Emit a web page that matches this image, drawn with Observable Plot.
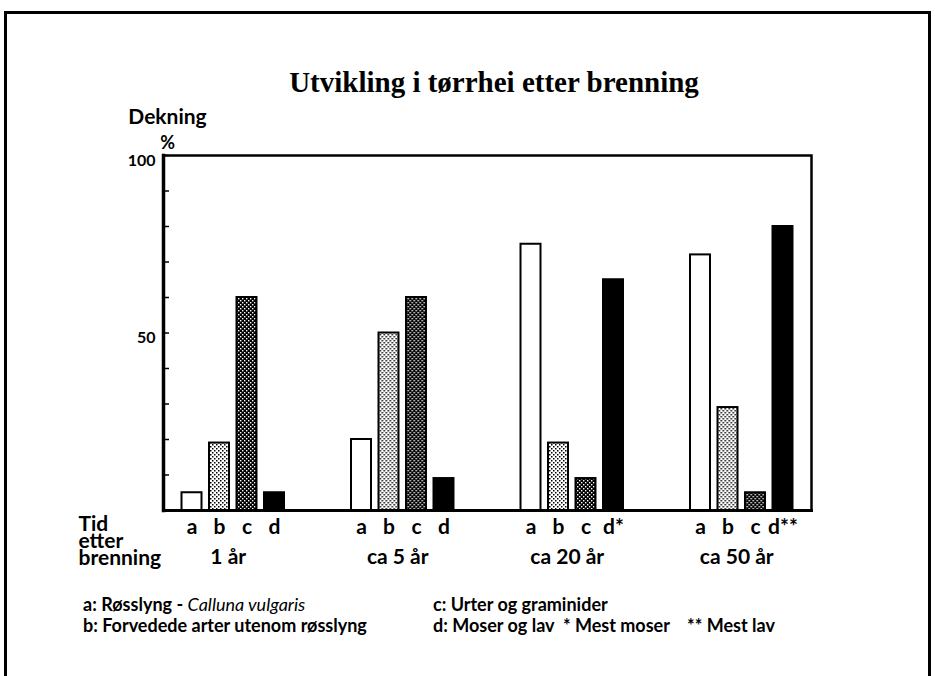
<!DOCTYPE html>
<html>
<head>
<meta charset="utf-8">
<script src="https://cdn.jsdelivr.net/npm/d3@7"></script>
<script src="https://cdn.jsdelivr.net/npm/@observablehq/plot@0.6"></script>
<style>
  html, body { margin: 0; padding: 0; background: #fff; }
  #page { position: relative; width: 935px; height: 676px; overflow: hidden; background: #fff; }
  #border { position: absolute; left: 4px; top: 11px; width: 921px; height: 720px; border: 3px solid #000; border-bottom: none; }
  #title { position: absolute; left: 244px; width: 500px; top: 66px; line-height: 32px; text-align: center;
           font-family: "Liberation Serif", "Times New Roman", serif; font-weight: bold; font-size: 29px; color: #000; white-space: nowrap; }
  #chart { position: absolute; left: 0; top: 100px; }
  .leg { position: absolute; font-family: Lato, sans-serif; font-weight: 700; font-size: 18px; line-height: 21px; color: #000; white-space: nowrap; }
  .leg i { font-weight: 400; }
</style>
</head>
<body>
<div id="page">
  <div id="border"></div>
  <div id="title">Utvikling i tørrhei etter brenning</div>
  <div id="chart"></div>
  <div class="leg" style="left:83px; top:594px;">a: Røsslyng - <i>Calluna vulgaris</i><br>b: Forvedede arter utenom røsslyng</div>
  <div class="leg" style="left:433px; top:594px;">c: Urter og graminider<br>d: Moser og lav &nbsp;* Mest moser &nbsp;&nbsp;&nbsp;** Mest lav</div>
</div>
<script>
// ---- data ----
const groups = ["1 år", "ca 5 år", "ca 20 år", "ca 50 år"];
const letters = ["a", "b", "c", "d"];
const tickLabels = [
  ["a", "b", "c", "d"],
  ["a", "b", "c", "d"],
  ["a", "b", "c", "d*"],
  ["a", "b", "c", "d**"]
];
const seriesA = [5, 20, 75, 72];   // Røsslyng
const seriesB = [19, 50, 19, 29];  // Forvedede arter
const seriesC = [60, 60, 9, 5];    // Urter og graminider
const seriesD = [5, 9, 65, 80];    // Moser og lav
const yTicks = [0, 10, 20, 30, 40, 50, 60, 70, 80, 90, 100];
const yLabels = [50, 100];

// ---- build table ----
const series = [seriesA, seriesB, seriesC, seriesD];
const rows = groups.flatMap((g, i) => letters.map((l, j) => ({
  group: g, letter: l, label: tickLabels[i][j], value: series[j][i]
})));

const fills = { a: "white", b: "url(#pat-light)", c: "url(#pat-dark)", d: "black" };

const chart = Plot.plot({
  width: 935,
  height: 490,
  marginLeft: 163,
  marginRight: 124,
  marginTop: 55,
  marginBottom: 80,
  style: { fontFamily: "Lato, sans-serif", fontWeight: "bold", fontSize: "20px", color: "black", background: "transparent", overflow: "visible" },
  fx: { domain: groups, paddingInner: 0.177, paddingOuter: 0, round: false, axis: null, label: null },
  x: { domain: letters, paddingInner: 0.273, paddingOuter: 0.673, round: false, axis: null, label: null },
  y: { domain: [0, 100], label: null },
  marks: [
    ...letters.map(l => Plot.barY(rows.filter(r => r.letter === l), {
      fx: "group", x: "letter", y: "value", fill: fills[l], stroke: "black", strokeWidth: 2
    })),
    Plot.frame({ facet: "super", stroke: "black", strokeWidth: 2.5 }),
    Plot.frame({ facet: "super", anchor: "left", stroke: "black", strokeWidth: 3.5 }),
    Plot.frame({ facet: "super", anchor: "bottom", stroke: "black", strokeWidth: 3 }),
    Plot.axisY({ ticks: yTicks, tickSize: -6, tickFormat: () => "", label: null, strokeWidth: 1.5 }),
    Plot.axisY({ ticks: yLabels, tickSize: 0, tickPadding: 8, dy: 5, label: null, fontSize: 16, fontWeight: "bold" }),
    Plot.text(rows, { fx: "group", x: "letter", text: "label", frameAnchor: "bottom", lineAnchor: "top", dy: 9, fontSize: 21, fontWeight: "bold" }),
    Plot.text(groups, { fx: d => d, text: d => d, frameAnchor: "bottom", lineAnchor: "top", dy: 39, dx: -5, fontSize: 21, fontWeight: "bold" }),
    Plot.text(["Dekning"], { facet: "super", text: d => d, frameAnchor: "top-left", textAnchor: "middle", dx: 4, dy: -46, fontSize: 21, fontWeight: "bold" }),
    Plot.text(["%"], { facet: "super", text: d => d, frameAnchor: "top-left", textAnchor: "middle", dx: 4, dy: -19, fontSize: 18, fontWeight: "bold" }),
    Plot.text(["Tid\netter\nbrenning"], { facet: "super", text: d => d, frameAnchor: "bottom-left", textAnchor: "start", lineAnchor: "top", lineHeight: 0.8, dx: -85, dy: 9, fontSize: 21, fontWeight: "bold" })
  ]
});

chart.insertAdjacentHTML("afterbegin",
  '<defs>' +
  '<pattern id="pat-light" width="4" height="4" patternUnits="userSpaceOnUse">' +
  '<rect width="4" height="4" fill="white"/><rect x="0" y="0" width="1.5" height="1.5" fill="black"/><rect x="2" y="2" width="1.5" height="1.5" fill="black"/>' +
  '</pattern>' +
  '<pattern id="pat-dark" width="4" height="4" patternUnits="userSpaceOnUse">' +
  '<rect width="4" height="4" fill="black"/><rect x="0" y="0" width="1.4" height="1.4" fill="white"/><rect x="2" y="2" width="1.4" height="1.4" fill="white"/>' +
  '</pattern>' +
  '</defs>');

document.getElementById("chart").appendChild(chart);
</script>
</body>
</html>
